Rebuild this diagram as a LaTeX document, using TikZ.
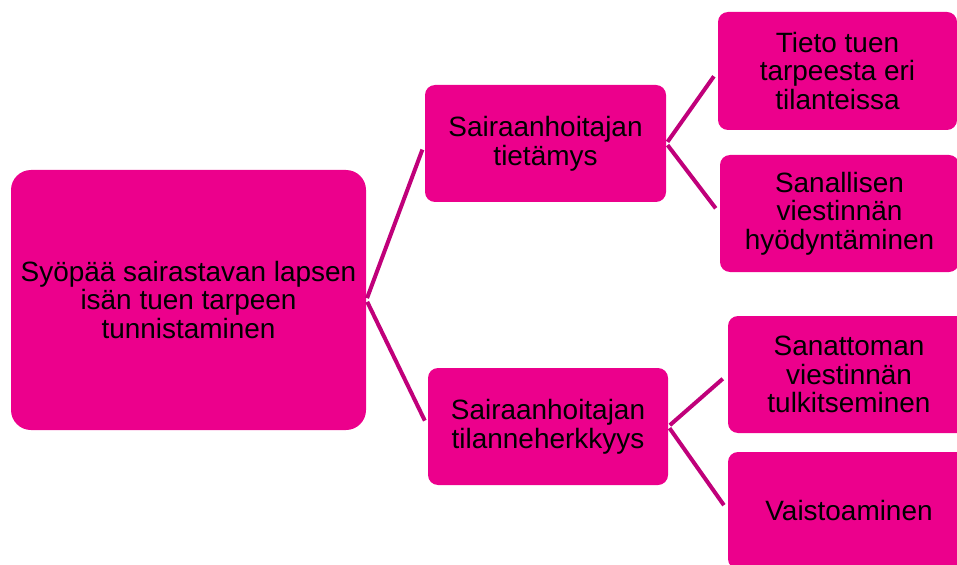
\documentclass[tikz,border=0pt]{standalone}
\usepackage{fontspec}
\setmainfont{Liberation Sans}
\usepackage{tikz}

\definecolor{boxpink}{RGB}{236,0,140}
\definecolor{linkpink}{RGB}{192,0,122}

\tikzset{
	box/.style={rectangle, fill=boxpink, rounded corners=0.2cm, align=center, inner sep=2pt,
		font=\fontsize{15.9}{16.3}\selectfont, text=black},
	link/.style={draw=linkpink, line width=0.08cm, shorten >=0.13cm, shorten <=0.04cm}
}

\begin{document}
\begin{tikzpicture}
	\useasboundingbox (0,0) rectangle (19.14,11.28);
	\clip (0,0) rectangle (19.14,11.28);
	\node (root) at (3.77,5.28) [box, rounded corners=0.4cm, minimum width=7.10cm, minimum height=5.20cm] {Syöpää sairastavan lapsen\\isän tuen tarpeen\\tunnistaminen};
		\node (know) at (10.91,8.41) [box, minimum width=4.82cm, minimum height=2.34cm] {Sairaanhoitajan\\tietämys};
			\node (need) at (16.75,9.86) [box, minimum width=4.78cm, minimum height=2.36cm] {Tieto tuen\\tarpeesta eri\\tilanteissa};
			\node (verbal) at (16.79,7.01) [box, minimum width=4.78cm, minimum height=2.34cm] {Sanallisen\\viestinnän\\hyödyntäminen};
		\node (sense) at (10.96,2.75) [box, minimum width=4.80cm, minimum height=2.34cm] {Sairaanhoitajan\\tilanneherkkyys};
			\node (nonverbal) at (16.98,3.79) [box, minimum width=4.84cm, minimum height=2.34cm] {Sanattoman\\viestinnän\\tulkitseminen};
			\node (instinct) at (16.98,1.07) [box, minimum width=4.84cm, minimum height=2.34cm] {Vaistoaminen};
	\draw[link] (root.east) -- (know.west);
	\draw[link] (root.east) -- (sense.west);
	\draw[link] (know.east) -- (need.west);
	\draw[link] (know.east) -- (verbal.west);
	\draw[link] (sense.east) -- (nonverbal.west);
	\draw[link] (sense.east) -- (instinct.west);
\end{tikzpicture}
\end{document}
